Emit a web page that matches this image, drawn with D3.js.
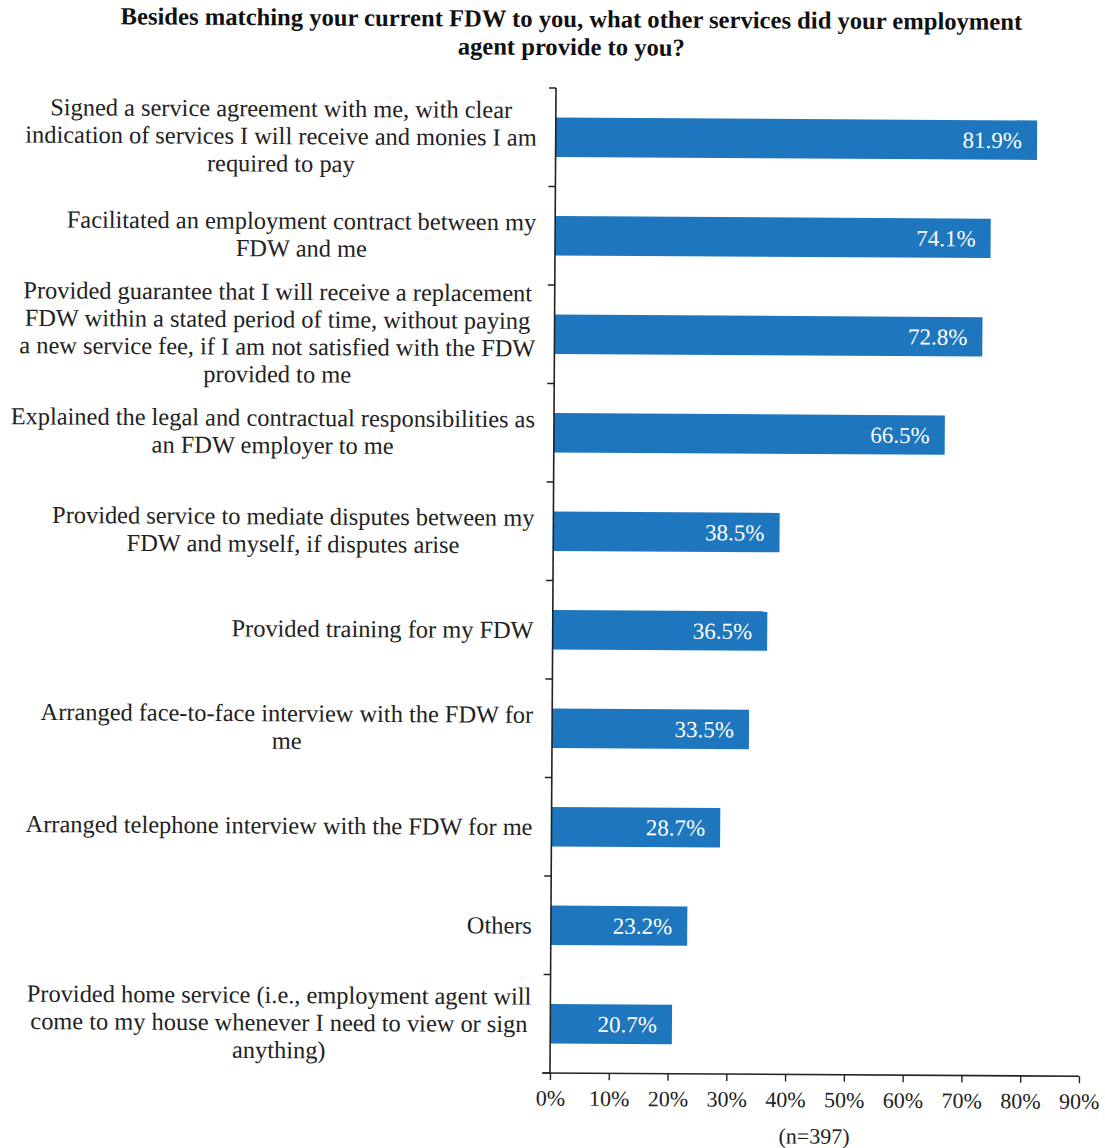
<!DOCTYPE html>
<html>
<head>
<meta charset="utf-8">
<script src="https://cdn.jsdelivr.net/npm/d3@7"></script>
<style>
  body { margin: 0; background: #fff; }
  text { font-family: "Liberation Serif", "Times New Roman", serif; }
</style>
</head>
<body>
<div id="chart"></div>
<script>
// data
var categories = [
  ["Signed a service agreement with me, with clear", "indication of services I will receive and monies I am", "required to pay"],
  ["Facilitated an employment contract between my", "FDW and me"],
  ["Provided guarantee that I will receive a replacement", "FDW within a stated period of time, without paying", "a new service fee, if I am not satisfied with the FDW", "provided to me"],
  ["Explained the legal and contractual responsibilities as", "an FDW employer to me"],
  ["Provided service to mediate disputes between my", "FDW and myself, if disputes arise"],
  ["Provided training for my FDW"],
  ["Arranged face-to-face interview with the FDW for", "me"],
  ["Arranged telephone interview with the FDW for me"],
  ["Others"],
  ["Provided home service (i.e., employment agent will", "come to my house whenever I need to view or sign", "anything)"]
];
var values = [81.9, 74.1, 72.8, 66.5, 38.5, 36.5, 33.5, 28.7, 23.2, 20.7];
var xTicks = [0, 10, 20, 30, 40, 50, 60, 70, 80, 90];
var titleLines = ["Besides matching your current FDW to you, what other services did your employment", "agent provide to you?"];
var note = "(n=397)";

function init() {
  var w = 1105;
  var h = 1148;
  var left = 553, right = 1082, top = 88, bottom = 1073;
  var barColor = "#1d76be";

  var svg = d3.select("#chart")
    .append("svg")
    .attr("width", w)
    .attr("height", h);

  // the scan is slightly tilted
  var g = svg.append("g")
    .attr("transform", "rotate(0.35," + left + ",580)");

  // title
  g.append("text")
    .attr("x", 568)
    .attr("y", 27)
    .attr("text-anchor", "middle")
    .attr("font-size", "24.6px")
    .attr("font-weight", "bold")
    .attr("fill", "#111")
    .selectAll("tspan")
    .data(titleLines)
    .enter()
    .append("tspan")
    .attr("x", 568)
    .attr("dy", function(d, i) { return i === 0 ? 0 : 28; })
    .text(function(d) { return d; });

  var x = d3.scaleLinear().domain([0, 90]).range([left, right]);
  var y = d3.scaleBand()
    .domain(d3.range(categories.length))
    .range([top, bottom])
    .paddingInner(0.6)
    .paddingOuter(0.3);

  // bars
  g.selectAll(".bar")
    .data(values)
    .enter()
    .append("rect")
    .attr("class", "bar")
    .attr("x", x(0))
    .attr("y", function(d, i) { return y(i); })
    .attr("width", function(d) { return x(d) - x(0); })
    .attr("height", y.bandwidth())
    .attr("fill", barColor);

  // value labels
  g.selectAll(".val")
    .data(values)
    .enter()
    .append("text")
    .attr("class", "val")
    .attr("x", function(d) { return x(d) - 15; })
    .attr("y", function(d, i) { return y(i) + y.bandwidth() / 2; })
    .attr("dy", "0.35em")
    .attr("text-anchor", "end")
    .attr("font-size", "23px")
    .attr("fill", "#fff")
    .text(function(d) { return d.toFixed(1) + "%"; });

  // y axis line with ticks between categories
  g.append("line")
    .attr("x1", left).attr("x2", left)
    .attr("y1", top).attr("y2", bottom)
    .attr("stroke", "#222").attr("stroke-width", 1.6);
  g.selectAll(".ytick")
    .data(d3.range(categories.length + 1))
    .enter()
    .append("line")
    .attr("class", "ytick")
    .attr("x1", left - 7).attr("x2", left)
    .attr("y1", function(d) { return top + d * (bottom - top) / categories.length; })
    .attr("y2", function(d) { return top + d * (bottom - top) / categories.length; })
    .attr("stroke", "#222").attr("stroke-width", 1.4);

  // category labels (centred block, right aligned to axis)
  var labelRight = left - 19;
  var lineH = 27.5;
  categories.forEach(function(lines, i) {
    var t = g.append("text")
      .attr("font-size", "24.4px")
      .attr("fill", "#222")
      .attr("text-anchor", "middle");
    var cy = y(i) + y.bandwidth() / 2;
    var y0 = cy - (lines.length - 1) * lineH / 2;
    var spans = t.selectAll("tspan")
      .data(lines)
      .enter()
      .append("tspan")
      .attr("y", function(d, j) { return y0 + j * lineH; })
      .attr("dy", "0.35em")
      .text(function(d) { return d; });
    var maxW = 0;
    spans.each(function() { maxW = Math.max(maxW, this.getComputedTextLength()); });
    spans.attr("x", labelRight - maxW / 2);
  });

  // x axis
  var xAxis = d3.axisBottom(x)
    .tickValues(xTicks)
    .tickSize(7)
    .tickPadding(10)
    .tickFormat(function(d) { return d + "%"; });

  var ax = g.append("g")
    .attr("transform", "translate(0," + bottom + ")")
    .call(xAxis);
  ax.select(".domain")
    .attr("d", "M" + (left - 8) + ",0H" + right)
    .attr("stroke", "#222").attr("stroke-width", 1.6);
  ax.selectAll(".tick line").attr("stroke", "#222").attr("stroke-width", 1.4);
  ax.selectAll(".tick text")
    .attr("font-family", "Liberation Serif")
    .attr("font-size", "22px")
    .attr("fill", "#222");

  g.append("text")
    .attr("x", (left + right) / 2)
    .attr("y", bottom + 69)
    .attr("text-anchor", "middle")
    .attr("font-size", "22px")
    .attr("fill", "#222")
    .text(note);
}

window.onload = init;
</script>
</body>
</html>
